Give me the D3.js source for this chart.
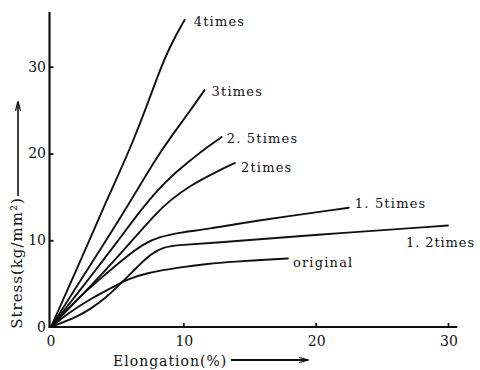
<!DOCTYPE html>
<html>
<head>
<meta charset="utf-8">
<script src="https://cdn.jsdelivr.net/npm/d3@7/dist/d3.min.js"></script>
<style>
  html, body { margin: 0; padding: 0; background: #fff; }
  svg { display: block; }
  text { font-family: "DejaVu Serif", "Liberation Serif", serif; fill: #111; }
</style>
</head>
<body>
<svg id="chart" width="480" height="370"></svg>
<script>
// Stress–elongation curves for different draw ratios (elongation %, stress kg/mm²)
const times4   = [[0,0],[2.8,9.6],[4.2,14.6],[5.2,17.9],[6.2,21.4],[7.2,25.3],[8.0,28.7],[8.8,31.7],[9.5,33.8],[10.1,35.4]];
const times3   = [[0,0],[2.0,4.8],[4.0,9.6],[5.7,13.7],[8.0,19.6],[9.25,22.3],[10.5,24.9],[11.6,27.3]];
const times2_5 = [[0,0],[3.0,5.8],[5.0,9.8],[6.7,13.3],[8.0,15.7],[9.3,17.7],[11.3,20.2],[12.9,21.9]];
const times2   = [[0,0],[3.7,5.8],[5.85,9.5],[8.0,13.2],[9.0,14.6],[10.5,16.3],[12.5,17.9],[13.9,18.9]];
const times1_5 = [[0,0],[1.8,3.0],[3.6,5.4],[5.6,8.0],[7.0,9.6],[8.2,10.4],[9.75,10.9],[11.9,11.3],[14.8,12.1],[22.5,13.75]];
const times1_2 = [[0,0],[2.0,1.2],[3.0,2.1],[4.1,3.3],[5.2,4.9],[6.5,6.9],[7.6,8.5],[8.5,9.2],[9.5,9.45],[11.9,9.65],[19.8,10.6],[30.0,11.7]];
const original = [[0,0],[1.3,1.6],[3.05,3.3],[4.8,4.7],[5.8,5.5],[7.1,6.2],[9.75,6.9],[11.9,7.3],[13.5,7.5],[17.9,7.9]];

const seriesData   = [times4, times3, times2_5, times2, times1_5, times1_2, original];
const seriesLabels = ["4times", "3times", "2. 5times", "2times", "1. 5times", "1. 2times", "original"];

const xTickValues = [0, 10, 20, 30];
const yTickValues = [0, 10, 20, 30];
const xTitle = "Elongation(%)";
const yTitle = "Stress(kg/mm²)";

// label placement relative to each curve's end point
const labelOffsets = [[9, 1], [7, 1], [5, 1], [6, 4], [6, -5], [-42, 16.5], [5, 3.5]];

const svg = d3.select("#chart");

const x = d3.scaleLinear().domain([0, 30]).range([51, 448]);
const y = d3.scaleLinear().domain([0, 30]).range([327, 66.7]);

const ink = "#111";

// axes
svg.append("line")
  .attr("x1", 49.5).attr("x2", 49.5)
  .attr("y1", 328).attr("y2", y(36.3))
  .attr("stroke", ink).attr("stroke-width", 2.2);
svg.append("line")
  .attr("x1", 49).attr("x2", x(30.7))
  .attr("y1", 327).attr("y2", 327)
  .attr("stroke", ink).attr("stroke-width", 2.2);

// y ticks point inward
const yAxis = d3.axisRight(y).tickValues(yTickValues.filter(d => d > 0)).tickSize(4).tickFormat("");
svg.append("g").attr("transform", "translate(49.5,0)").call(yAxis)
  .call(g => g.select(".domain").remove())
  .call(g => g.selectAll("line").attr("stroke", ink).attr("stroke-width", 1.8));

const xAxis = d3.axisTop(x).tickValues(xTickValues.filter(d => d > 0)).tickSize(4).tickFormat("");
svg.append("g").attr("transform", "translate(0,327)").call(xAxis)
  .call(g => g.select(".domain").remove())
  .call(g => g.selectAll("line").attr("stroke", ink).attr("stroke-width", 1.8));

// tick labels
svg.append("g").selectAll("text").data(yTickValues).join("text")
  .attr("x", 46).attr("y", d => y(d) + 5)
  .attr("text-anchor", "end")
  .style("font-size", "14px")
  .text(d => d);

svg.append("g").selectAll("text").data(xTickValues).join("text")
  .attr("x", d => d === 0 ? x(d) : x(d) + 1).attr("y", 346)
  .attr("text-anchor", "middle")
  .style("font-size", "14px")
  .text(d => d);

// curves, smoothed through the read-off points
const line = d3.line()
  .x(d => x(d[0]))
  .y(d => y(d[1]))
  .curve(d3.curveBasis);

svg.append("g").selectAll("path").data(seriesData).join("path")
  .attr("d", line)
  .attr("fill", "none")
  .attr("stroke", ink)
  .attr("stroke-width", 1.9)
  .attr("stroke-linejoin", "round")
  .attr("stroke-linecap", "round");

// curve labels at the end of each curve
svg.append("g").selectAll("text").data(seriesData).join("text")
  .attr("x", (d, i) => x(d[d.length - 1][0]) + labelOffsets[i][0])
  .attr("y", (d, i) => y(d[d.length - 1][1]) + labelOffsets[i][1] + 5)
  .style("font-size", "13px")
  .style("letter-spacing", (d, i) => i === 5 ? "0.9px" : "1.2px")
  .text((d, i) => seriesLabels[i]);

// axis titles with arrows
const defs = svg.append("defs");
defs.append("marker")
  .attr("id", "arrowhead")
  .attr("viewBox", "0 0 10 6")
  .attr("refX", 9).attr("refY", 3)
  .attr("markerWidth", 10).attr("markerHeight", 6)
  .attr("markerUnits", "userSpaceOnUse")
  .attr("orient", "auto")
  .append("path")
  .attr("d", "M0,0.5 L10,3 L0,5.5")
  .attr("fill", "none")
  .attr("stroke", ink)
  .attr("stroke-width", 1.2);

svg.append("text")
  .attr("transform", "translate(22,263) rotate(-90)")
  .attr("text-anchor", "middle")
  .style("font-size", "15px")
  .style("letter-spacing", "1px")
  .text(yTitle);

svg.append("line")
  .attr("x1", 18).attr("x2", 18)
  .attr("y1", 196).attr("y2", 102)
  .attr("stroke", ink).attr("stroke-width", 1.6)
  .attr("marker-end", "url(#arrowhead)");

svg.append("text")
  .attr("x", 113).attr("y", 366)
  .style("font-size", "14px")
  .style("letter-spacing", "1px")
  .text(xTitle);

svg.append("line")
  .attr("x1", 231).attr("x2", 308)
  .attr("y1", 360).attr("y2", 360)
  .attr("stroke", ink).attr("stroke-width", 2)
  .attr("marker-end", "url(#arrowhead)");
</script>
</body>
</html>
